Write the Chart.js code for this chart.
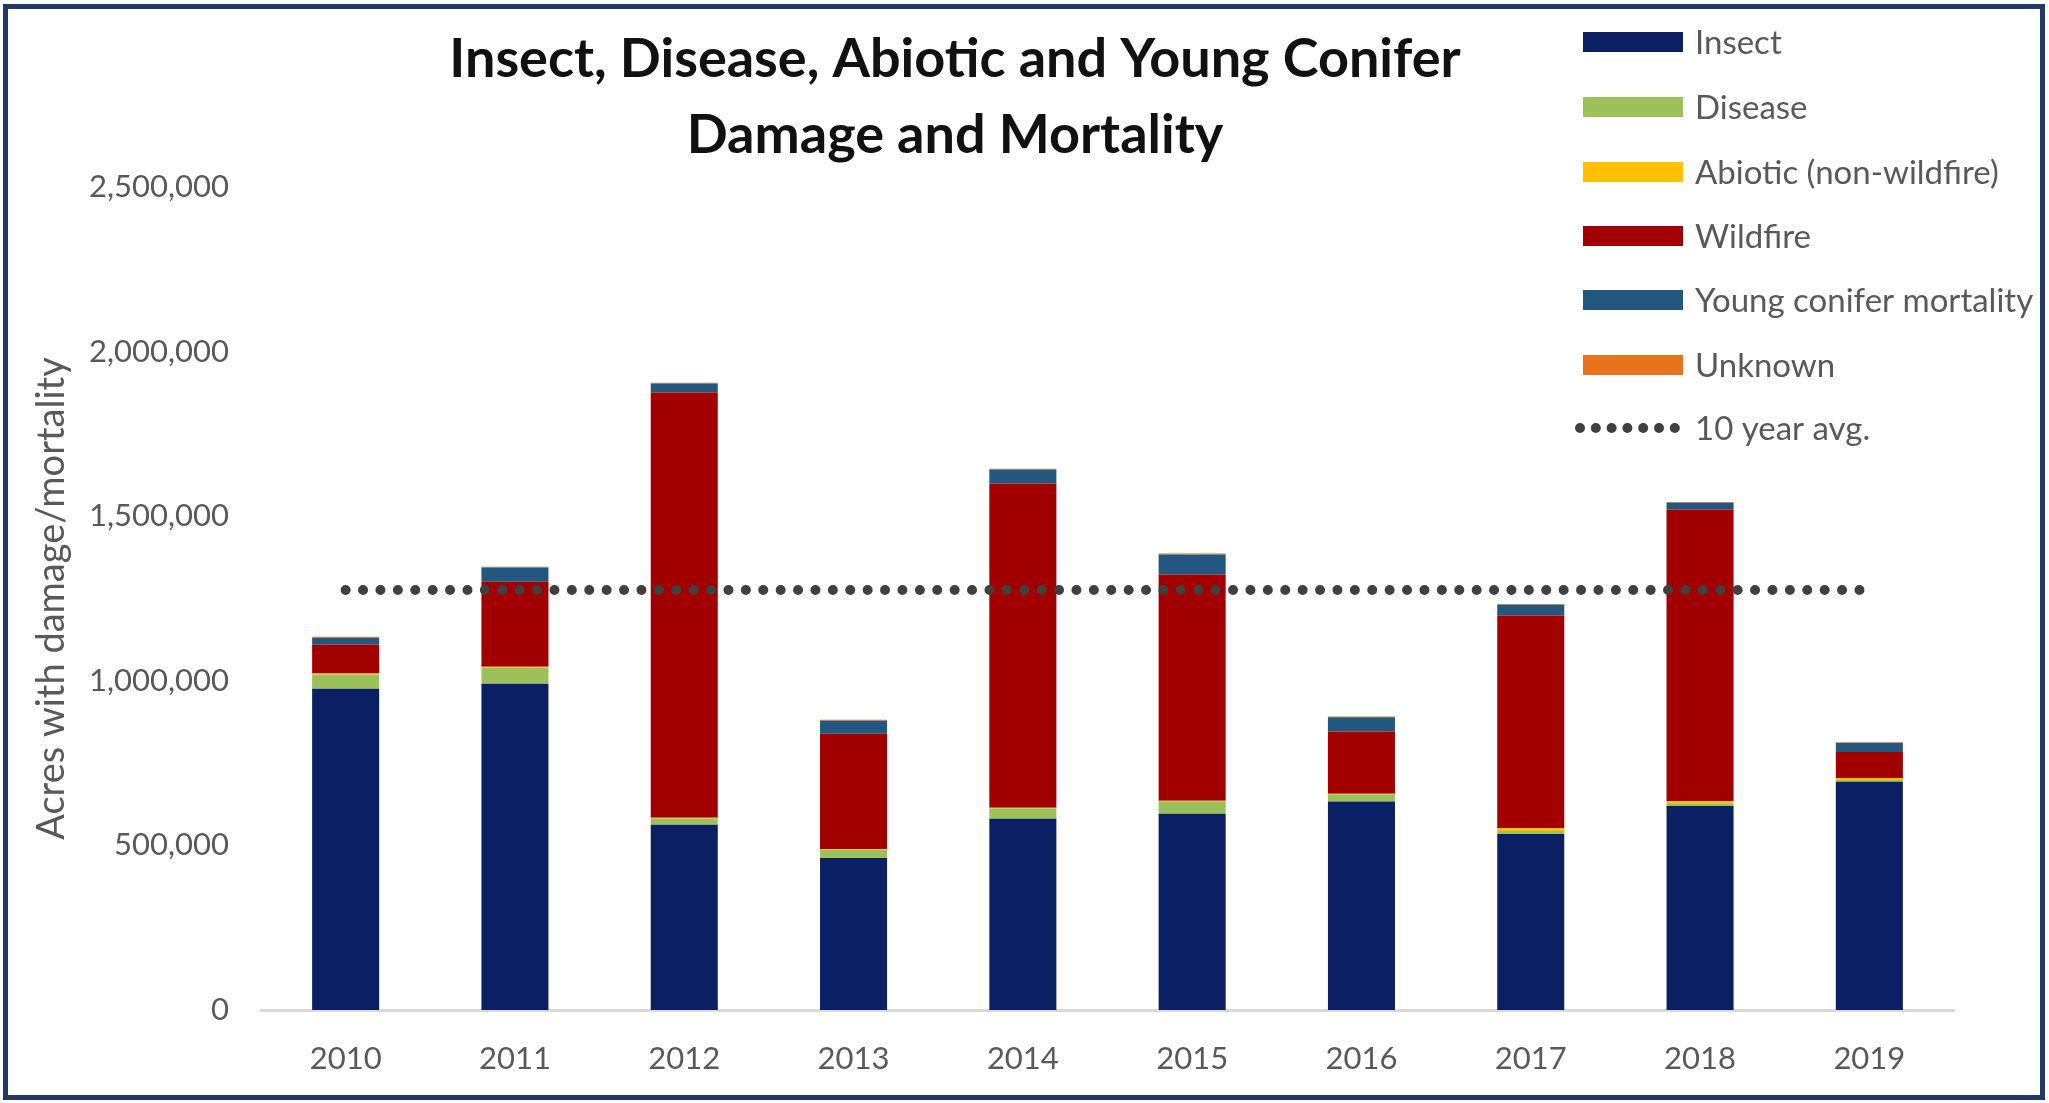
<!DOCTYPE html>
<html>
<head>
<meta charset="utf-8">
<script src="https://cdn.jsdelivr.net/npm/chart.js@4.4.1/dist/chart.umd.min.js"></script>
<style>
  html, body { margin: 0; padding: 0; background: #fff; }
  #wrap { position: relative; width: 2049px; height: 1103px; }
  #frame { position: absolute; left: 3px; top: 4px; right: 4px; bottom: 3px; border: 5px solid #1f3a68; pointer-events: none; }
</style>
</head>
<body>
<div id="wrap">
  <canvas id="chart" width="2049" height="1103"></canvas>
  <div id="frame"></div>
</div>
<script>
// values (acres)
const years = ['2010', '2011', '2012', '2013', '2014', '2015', '2016', '2017', '2018', '2019'];
const insect = [976000, 991000, 563000, 462000, 581000, 596000, 633000, 535000, 620000, 693000];
const disease = [43000, 49000, 19000, 25000, 31000, 38000, 22000, 9000, 8000, 6000];
const abiotic = [3000, 3000, 2000, 2000, 2000, 2000, 2000, 9000, 7000, 6000];
const wildfire = [88000, 258000, 1292000, 350000, 985000, 687000, 189000, 645000, 885000, 79000];
const youngConifer = [21000, 43000, 27000, 40000, 43000, 61000, 43000, 33000, 21000, 27000];
const unknown = [2500, 2500, 2500, 2500, 2500, 2500, 2500, 2500, 2500, 2500];
const tenYearAvg = [1276000, 1276000, 1276000, 1276000, 1276000, 1276000, 1276000, 1276000, 1276000, 1276000];

const titleLines = ['Insect, Disease, Abiotic and Young Conifer', 'Damage and Mortality'];
const FONT = 'Lato';
const GREY = '#595959';

function barSet(label, data, color) {
  return { label, data, backgroundColor: color, borderWidth: 0, stack: 'bars', order: 1 };
}

const overlay = {
  id: 'overlay',
  afterDraw(chart) {
    const ctx = chart.ctx;
    ctx.save();
    // title
    ctx.fillStyle = '#111';
    ctx.font = 'bold 54px ' + FONT;
    ctx.textAlign = 'center';
    ctx.textBaseline = 'middle';
    ctx.fillText(titleLines[0], 955, 60);
    ctx.fillText(titleLines[1], 955, 136);

    // legend
    const rowY = [42, 107, 172, 236, 300, 365, 428];
    const items = chart.data.datasets.filter(d => d.type !== 'line');
    ctx.font = '33px ' + FONT;
    ctx.textAlign = 'left';
    items.forEach((d, i) => {
      ctx.fillStyle = d.backgroundColor;
      ctx.fillRect(1583, rowY[i] - 10, 100, 20);
      ctx.fillStyle = GREY;
      ctx.fillText(d.label, 1695, rowY[i] + 1);
    });
    const avg = chart.data.datasets.find(d => d.type === 'line');
    ctx.fillStyle = avg.borderColor;
    for (let k = 0; k < 7; k++) {
      ctx.beginPath();
      ctx.arc(1580 + k * 15.8, rowY[6], 5, 0, Math.PI * 2);
      ctx.fill();
    }
    ctx.fillStyle = GREY;
    ctx.fillText(avg.label, 1695, rowY[6] + 1);
    ctx.restore();
  }
};

const ctx = document.getElementById('chart').getContext('2d');
new Chart(ctx, {
  type: 'bar',
  data: {
    labels: years,
    datasets: [
      barSet('Insect', insect, '#0a2063'),
      barSet('Disease', disease, '#9dc15a'),
      barSet('Abiotic (non-wildfire)', abiotic, '#ffc000'),
      barSet('Wildfire', wildfire, '#a20000'),
      barSet('Young conifer mortality', youngConifer, '#22587f'),
      barSet('Unknown', unknown, '#e8731c'),
      {
        type: 'line', label: '10 year avg.', data: tenYearAvg, stack: 'avg', order: 0,
        borderColor: '#404040', borderWidth: 10, borderDash: [0, 17.4], borderCapStyle: 'round',
        pointRadius: 0, fill: false, tension: 0
      }
    ]
  },
  options: {
    responsive: false,
    animation: false,
    devicePixelRatio: 1,
    layout: { padding: { left: 14, right: 95, top: 187, bottom: 20 } },
    plugins: { legend: { display: false }, tooltip: { enabled: false } },
    datasets: { bar: { categoryPercentage: 1, barPercentage: 0.396 } },
    scales: {
      x: {
        stacked: true,
        grid: { display: false, drawTicks: false },
        border: { color: '#d9d9d9', width: 3 },
        ticks: { color: GREY, font: { family: FONT, size: 31 }, padding: 30 },
        afterFit: s => { s.height = 73; }
      },
      y: {
        stacked: true,
        min: 0,
        max: 2500000,
        grid: { display: false, drawTicks: false },
        border: { display: false },
        ticks: {
          stepSize: 500000,
          padding: 32,
          color: GREY,
          font: { family: FONT, size: 31 },
          callback: v => v.toLocaleString('en-US')
        },
        title: {
          display: true,
          text: 'Acres with damage/mortality',
          color: GREY,
          font: { family: FONT, size: 38 },
          padding: { top: 15, bottom: 0 }
        },
        afterFit: s => { s.width = 247; }
      }
    }
  },
  plugins: [overlay]
});
</script>
</body>
</html>
